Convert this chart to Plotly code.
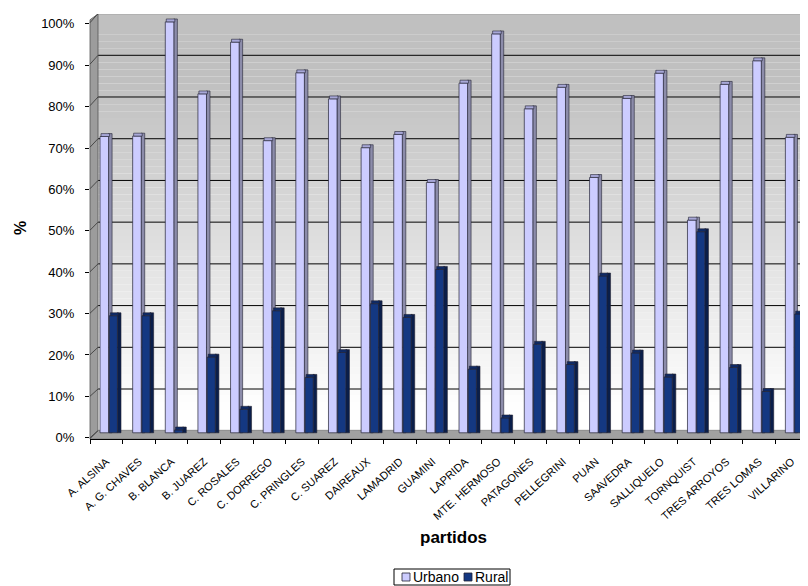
import plotly.graph_objects as go

partidos = ["A. ALSINA", "A. G. CHAVES", "B. BLANCA", "B. JUAREZ", "C. ROSALES", "C. DORREGO",
            "C. PRINGLES", "C. SUAREZ", "DAIREAUX", "LAMADRID", "GUAMINI", "LAPRIDA",
            "MTE. HERMOSO", "PATAGONES", "PELLEGRINI", "PUAN", "SAAVEDRA", "SALLIQUELO",
            "TORNQUIST", "TRES ARROYOS", "TRES LOMAS", "VILLARINO"]
urbano = [71.6, 71.7, 99.3, 81.9, 94.4, 70.6, 87.0, 80.7, 68.9, 72.1, 60.5,
          84.5, 96.4, 78.3, 83.5, 61.7, 80.8, 86.9, 51.4, 84.2, 89.9, 71.4]
rural = [28.3, 28.3, 0.7, 18.3, 5.7, 29.5, 13.4, 19.4, 31.2, 27.9, 39.5,
         15.4, 3.6, 21.4, 16.5, 37.9, 19.3, 13.5, 48.6, 15.8, 10.0, 28.7]
series_names = ["Urbano", "Rural"]
tick_pct = [0, 10, 20, 30, 40, 50, 60, 70, 80, 90, 100]
tick_txt = [f"{v}%" for v in tick_pct]

FONT = "Arial, Liberation Sans, sans-serif"
DEPTH = 0.7          # 3D cap height in % units
W_PX = 718.0
BOTTOM_PX = 439.0    # page y of plot-area bottom
H_PX = 425.0
WALL = 8 / W_PX      # wall depth as paper fraction
COL_U, COL_R = "#CCCCFF", "#143882"

fig = go.Figure()

def add_series(name, vals, front, side, cap, off_front, w_front, off_side, w_side):
    fig.add_trace(go.Bar(x=partidos, y=[v + DEPTH for v in vals], offset=off_side, width=w_side,
                         marker=dict(color=side, line=dict(color="#222233", width=0.6)),
                         showlegend=False, hoverinfo="skip"))
    fig.add_trace(go.Bar(x=partidos, y=vals, name=name, offset=off_front, width=w_front,
                         marker=dict(color=front, line=dict(color="#222233", width=0.7)),
                         showlegend=False))
    fig.add_trace(go.Bar(x=partidos, y=[DEPTH] * len(vals), base=vals, offset=off_front + 0.03,
                         width=w_front, marker=dict(color=cap, line=dict(color="#222233", width=0.6)),
                         showlegend=False, hoverinfo="skip"))

add_series(series_names[0], urbano, COL_U, "#8C8CAA", "#A8A8D8", -0.193, 0.262, 0.067, 0.11)
add_series(series_names[1], rural, COL_R, "#0A1E4A", "#0E2A66", 0.092, 0.248, 0.337, 0.113)

# invisible trace so the front (label) axis is drawn
fig.add_trace(go.Scatter(x=partidos, y=urbano, yaxis="y2", mode="markers",
                         marker=dict(opacity=0), showlegend=False, hoverinfo="skip"))

shapes = []
# back wall gradient
n = 60
top_v, bot_v = 101.2, 0.6
for i in range(n):
    y0 = bot_v + (top_v - bot_v) * i / n
    y1 = bot_v + (top_v - bot_v) * (i + 1) / n
    ym = (y0 + y1) / 2
    t = min(max((ym - 5) / 80.0, 0), 1)
    c = int(round(255 - t * (255 - 192)))
    shapes.append(dict(type="rect", xref="paper", yref="y", x0=WALL, x1=1, y0=y0, y1=y1,
                       fillcolor=f"rgb({c},{c},{c})", line=dict(width=0), layer="below"))
# back gridlines
for v in tick_pct[1:]:
    yb = v * 1.008 + 0.5
    shapes.append(dict(type="line", xref="paper", yref="y", x0=WALL, x1=1, y0=yb, y1=yb,
                       line=dict(color="#000000", width=1), layer="below"))
# floor
shapes.append(dict(type="path", xref="paper", yref="y",
                   path=f"M0,-1.5 L1,-1.5 L1,0.6 L{WALL},0.6 Z",
                   fillcolor="#A0A0A0", line=dict(color="#666666", width=0.6), layer="below"))
# left wall
shapes.append(dict(type="path", xref="paper", yref="y", xsizemode="pixel", xanchor=0,
                   path="M0,-1.5 L0,99.8 L8,101.2 L8,0.6 Z",
                   fillcolor="#9C9C9C", line=dict(color="#555555", width=0.8), layer="below"))
# wall tick diagonals
for v in tick_pct:
    shapes.append(dict(type="line", xref="paper", yref="y", xsizemode="pixel", xanchor=0,
                       x0=0, x1=8, y0=v * 1.003 - 1.2, y1=v * 1.008 + 0.5,
                       line=dict(color="#333333", width=0.8), layer="below"))

# custom compact legend (box + swatches); positions in page pixels
def px_x(p):
    return (p - 90) / W_PX
def px_y(p):
    return (BOTTOM_PX - p) / H_PX

shapes.append(dict(type="rect", xref="paper", yref="paper", x0=px_x(394), x1=px_x(510),
                   y0=px_y(585), y1=px_y(569), fillcolor="white",
                   line=dict(color="black", width=1), layer="above"))
shapes.append(dict(type="rect", xref="paper", yref="paper", x0=px_x(402), x1=px_x(410),
                   y0=px_y(581), y1=px_y(573), fillcolor=COL_U,
                   line=dict(color="#222233", width=0.8), layer="above"))
shapes.append(dict(type="rect", xref="paper", yref="paper", x0=px_x(464), x1=px_x(472),
                   y0=px_y(581), y1=px_y(573), fillcolor=COL_R,
                   line=dict(color="#222233", width=0.8), layer="above"))

# page body has an 8px margin: figure is 800x578 with margins shifted accordingly
fig.update_layout(
    width=800, height=578,
    margin=dict(l=82, r=0, t=6, b=147, autoexpand=False),
    paper_bgcolor="white", plot_bgcolor="rgba(0,0,0,0)",
    barmode="overlay",
    showlegend=False,
    font=dict(family=FONT, color="black"),
    shapes=shapes,
    xaxis=dict(type="category", tickangle=-42, tickfont=dict(size=11, family=FONT),
               ticks="outside", tickson="boundaries", ticklen=4, tickcolor="black",
               showline=True, linecolor="black", linewidth=1, showgrid=False,
               range=[-0.5, len(partidos) - 0.5], automargin=False, ticklabelstandoff=11),
    yaxis=dict(range=[-1.5, 101.2], showgrid=False, zeroline=False, showticklabels=False,
               showline=False, ticks="", automargin=False),
    yaxis2=dict(overlaying="y", side="left", range=[-0.3, 102.4], tickvals=tick_pct,
                ticktext=tick_txt, ticks="outside", ticklen=4, tickcolor="black",
                tickfont=dict(size=13, family=FONT), showgrid=False, zeroline=False,
                showline=False, ticklabelstandoff=8, automargin=False),
    annotations=[
        dict(text="<b>%</b>", xref="paper", yref="paper", x=px_x(20), y=px_y(228),
             xanchor="center", yanchor="middle",
             showarrow=False, textangle=-90, font=dict(size=16, family=FONT)),
        dict(text="<b>partidos</b>", xref="paper", yref="paper", x=px_x(453), y=px_y(537),
             xanchor="center", yanchor="middle",
             showarrow=False, font=dict(size=17, family=FONT)),
        dict(text=series_names[0], xref="paper", yref="paper", x=px_x(411), y=px_y(577),
             xanchor="left", yanchor="middle", showarrow=False, font=dict(size=14, family=FONT)),
        dict(text=series_names[1], xref="paper", yref="paper", x=px_x(473), y=px_y(577),
             xanchor="left", yanchor="middle", showarrow=False, font=dict(size=14, family=FONT)),
    ],
)

fig.write_html("out.html")
